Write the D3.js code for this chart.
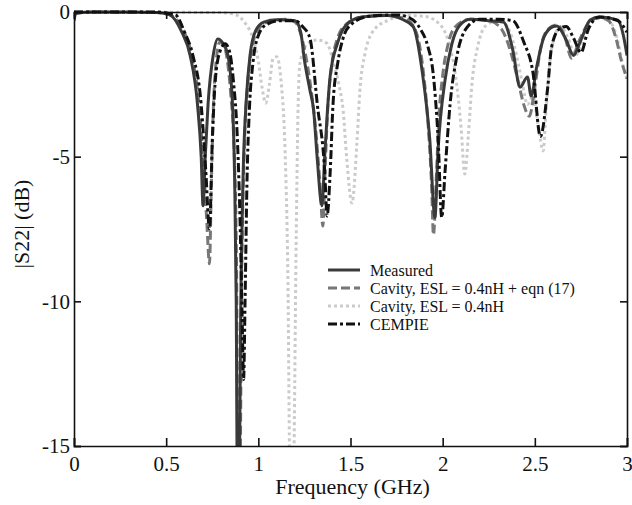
<!DOCTYPE html>
<html>
<head>
<meta charset="utf-8">
<script src="https://cdn.jsdelivr.net/npm/d3@7"></script>
<style>
  body { margin: 0; background: #fff; }
</style>
</head>
<body>
<div id="container"></div>
<script>
// data: [frequency GHz, |S22| dB]
const measured = [[0,-0.3],[0.01,-0.05],[0.1,0],[0.3,0],[0.45,-0.02],[0.52,-0.1],[0.585,-0.7],[0.63,-1.5],[0.67,-3.2],[0.69,-5.0],[0.70,-6.7],[0.712,-5.0],[0.727,-3.2],[0.755,-1.5],[0.78,-0.93],[0.81,-1.1],[0.835,-1.5],[0.86,-3.2],[0.872,-6],[0.88,-10],[0.886,-16],[0.896,-16],[0.905,-10],[0.918,-5.5],[0.935,-3],[0.955,-1.5],[0.985,-0.65],[1.03,-0.35],[1.1,-0.27],[1.2,-0.3],[1.23,-0.7],[1.25,-1.66],[1.28,-2.7],[1.30,-3.4],[1.32,-5.1],[1.345,-6.7],[1.36,-5.0],[1.375,-3.4],[1.39,-2.2],[1.43,-1.07],[1.47,-0.5],[1.56,-0.17],[1.7,-0.12],[1.78,-0.25],[1.84,-0.5],[1.89,-2.1],[1.93,-4.4],[1.958,-7.1],[1.975,-4.8],[2.013,-2.35],[2.05,-1.1],[2.094,-0.45],[2.15,-0.25],[2.25,-0.3],[2.33,-0.35],[2.38,-1.3],[2.42,-2.6],[2.46,-2.25],[2.48,-2.9],[2.51,-1.9],[2.55,-0.86],[2.6,-0.5],[2.62,-0.48],[2.67,-0.97],[2.71,-1.5],[2.75,-0.97],[2.8,-0.28],[2.85,-0.17],[2.95,-0.28],[2.98,-0.8],[3.0,-1.5]];

const cavityEqn = [[0,0],[0.45,-0.02],[0.52,-0.1],[0.59,-0.6],[0.635,-1.4],[0.675,-3.0],[0.70,-5.0],[0.72,-7.2],[0.735,-8.7],[0.745,-6.0],[0.755,-3.5],[0.77,-1.8],[0.79,-1.05],[0.81,-1.1],[0.83,-1.6],[0.85,-2.8],[0.87,-5],[0.882,-9],[0.89,-16],[0.9,-16],[0.91,-9],[0.925,-4.5],[0.945,-2.3],[0.97,-1.1],[1.0,-0.6],[1.05,-0.35],[1.15,-0.25],[1.2,-0.35],[1.24,-1.0],[1.28,-2.4],[1.31,-4.0],[1.335,-6.0],[1.35,-7.4],[1.362,-5.5],[1.375,-3.5],[1.395,-2.0],[1.43,-0.9],[1.48,-0.4],[1.55,-0.2],[1.7,-0.12],[1.8,-0.25],[1.85,-0.6],[1.89,-1.8],[1.92,-3.8],[1.94,-6.0],[1.95,-7.7],[1.965,-5.8],[1.98,-3.6],[2.0,-2.2],[2.03,-1.1],[2.07,-0.5],[2.15,-0.25],[2.25,-0.3],[2.32,-0.6],[2.37,-1.4],[2.41,-2.4],[2.44,-3.2],[2.47,-3.6],[2.5,-2.6],[2.53,-1.3],[2.57,-0.6],[2.62,-0.45],[2.66,-0.8],[2.70,-1.6],[2.74,-1.0],[2.79,-0.4],[2.85,-0.2],[2.9,-0.3],[2.94,-0.9],[2.97,-1.7],[3.0,-2.3]];

const cavity = [[0,0],[0.8,-0.02],[0.88,-0.1],[0.93,-0.4],[0.97,-0.9],[1.0,-1.7],[1.02,-2.6],[1.04,-3.15],[1.06,-2.5],[1.08,-1.6],[1.10,-1.55],[1.125,-2.5],[1.145,-4.8],[1.16,-9],[1.172,-16],[1.19,-16],[1.205,-8],[1.215,-3.5],[1.225,-1.8],[1.27,-1.07],[1.32,-0.97],[1.37,-1.07],[1.41,-1.8],[1.44,-2.6],[1.46,-3.4],[1.48,-5.1],[1.508,-6.6],[1.535,-4.5],[1.55,-2.8],[1.58,-1.4],[1.63,-0.6],[1.7,-0.3],[1.8,-0.12],[1.9,-0.15],[1.98,-0.4],[2.03,-1.0],[2.07,-2.2],[2.10,-4.0],[2.12,-5.6],[2.14,-4.2],[2.16,-2.4],[2.19,-1.2],[2.23,-0.5],[2.3,-0.3],[2.35,-0.5],[2.39,-1.2],[2.43,-2.4],[2.46,-3.2],[2.49,-2.9],[2.52,-4.0],[2.545,-4.8],[2.56,-3.5],[2.58,-1.8],[2.61,-0.8],[2.64,-0.5],[2.68,-0.9],[2.72,-1.5],[2.76,-1.0],[2.8,-0.4],[2.86,-0.2],[2.91,-0.35],[2.95,-1.0],[2.98,-1.9],[3.0,-2.3]];

const cempie = [[0,0],[0.45,0],[0.55,-0.1],[0.60,-0.7],[0.645,-1.5],[0.69,-3.2],[0.715,-5.5],[0.735,-7.5],[0.75,-4.5],[0.765,-2.5],[0.79,-1.4],[0.82,-1.1],[0.845,-1.4],[0.865,-2.4],[0.885,-4.2],[0.9,-7],[0.912,-10.5],[0.92,-12.7],[0.928,-10],[0.938,-6],[0.952,-3.3],[0.97,-1.8],[0.995,-0.9],[1.04,-0.45],[1.12,-0.3],[1.2,-0.3],[1.24,-0.5],[1.28,-0.9],[1.32,-3.2],[1.36,-5.5],[1.373,-7.05],[1.39,-5.5],[1.405,-3.2],[1.43,-1.8],[1.46,-0.9],[1.5,-0.45],[1.6,-0.15],[1.75,-0.1],[1.82,-0.2],[1.88,-0.6],[1.92,-1.2],[1.948,-2.1],[1.975,-4.35],[1.995,-7.1],[2.013,-5.5],[2.04,-3.2],[2.078,-1.5],[2.13,-0.55],[2.2,-0.25],[2.3,-0.25],[2.38,-0.3],[2.44,-1.04],[2.49,-2.1],[2.53,-4.3],[2.57,-2.6],[2.59,-1.25],[2.63,-0.6],[2.67,-0.5],[2.71,-0.9],[2.75,-1.4],[2.79,-0.6],[2.85,-0.17],[2.95,-0.3],[3.0,-0.7]];

const xTicks = [0, 0.5, 1, 1.5, 2, 2.5, 3];
const yTicks = [0, -5, -10, -15];
const legendLabels = ["Measured", "Cavity, ESL = 0.4nH + eqn (17)", "Cavity, ESL = 0.4nH", "CEMPIE"];

const width = 632,
      height = 505,
      margin = {top: 12, right: 5, bottom: 59, left: 74};
const serif = '"Liberation Serif", "DejaVu Serif", "Times New Roman", serif';

// line styles, in drawing order (light ones underneath)
const styles = [
  {data: cavity,    color: "#cbcbcb", dash: "3,3",        legend: 2},
  {data: cavityEqn, color: "#777777", dash: "9,4",        legend: 1},
  {data: measured,  color: "#3a3a3a", dash: null,         legend: 0},
  {data: cempie,    color: "#111111", dash: "9,3,3,3",    legend: 3}
];

const svg = d3.select("#container")
  .append("svg")
  .attr("width", width)
  .attr("height", height)
  .style("font-family", serif);

const xScale = d3.scaleLinear()
  .domain([0, 3])
  .range([margin.left, width - margin.right]);

const yScale = d3.scaleLinear()
  .domain([-15, 0])
  .range([height - margin.bottom, margin.top]);

// clip the curves to the plot box
svg.append("clipPath")
  .attr("id", "plotclip")
  .append("rect")
  .attr("x", margin.left)
  .attr("y", margin.top - 2)
  .attr("width", width - margin.left - margin.right)
  .attr("height", height - margin.top - margin.bottom + 2);

const line = d3.line()
  .x(d => xScale(d[0]))
  .y(d => yScale(d[1]))
  .curve(d3.curveMonotoneX);

svg.append("g")
  .attr("clip-path", "url(#plotclip)")
  .selectAll("path.series")
  .data(styles)
  .join("path")
  .attr("class", "series")
  .attr("d", d => line(d.data))
  .attr("fill", "none")
  .attr("stroke", d => d.color)
  .attr("stroke-width", 3)
  .attr("stroke-dasharray", d => d.dash);

// AXES - ticks pointing inward on all four sides
const fmt = d => String(d);
const axisFont = 21;

function styleAxis(g) {
  g.attr("font-family", serif);
  g.selectAll("text")
    .style("font-family", serif)
    .style("font-size", axisFont + "px")
    .attr("fill", "#111");
}

svg.append("g")
  .attr("transform", `translate(0,${height - margin.bottom})`)
  .call(d3.axisBottom(xScale).tickValues(xTicks).tickFormat(fmt).tickSize(-8).tickPadding(10))
  .call(styleAxis);

svg.append("g")
  .attr("transform", `translate(${margin.left},0)`)
  .call(d3.axisLeft(yScale).tickValues(yTicks).tickFormat(fmt).tickSize(-7).tickPadding(4))
  .call(styleAxis);

svg.append("g")
  .attr("transform", `translate(0,${margin.top})`)
  .call(d3.axisTop(xScale).tickValues(xTicks).tickFormat("").tickSize(-7));

svg.append("g")
  .attr("transform", `translate(${width - margin.right},0)`)
  .call(d3.axisRight(yScale).tickValues(yTicks).tickFormat("").tickSize(-7));

svg.selectAll(".domain, .tick line")
  .attr("stroke", "#111")
  .attr("stroke-width", 1.6);

// axis titles
svg.append("text")
  .attr("x", (margin.left + width - margin.right) / 2 + 2)
  .attr("y", 494)
  .attr("text-anchor", "middle")
  .style("font-family", serif)
  .style("font-size", "22px")
  .attr("fill", "#111")
  .text("Frequency (GHz)");

svg.append("text")
  .attr("transform", `translate(29,${(margin.top + height - margin.bottom) / 2 - 5}) rotate(-90)`)
  .attr("text-anchor", "middle")
  .style("font-family", serif)
  .style("font-size", "22px")
  .attr("fill", "#111")
  .text("|S22| (dB)");

// legend
const legend = svg.append("g")
  .attr("transform", "translate(328,270)");

const rows = legend.selectAll("g.row")
  .data(styles.slice().sort((a, b) => a.legend - b.legend))
  .join("g")
  .attr("class", "row")
  .attr("transform", d => `translate(0,${d.legend * 18})`);

rows.append("line")
  .attr("x1", 0)
  .attr("x2", 32)
  .attr("stroke", d => d.color)
  .attr("stroke-width", 3)
  .attr("stroke-dasharray", d => d.dash);

rows.append("text")
  .attr("x", 42)
  .attr("dy", "0.35em")
  .style("font-family", serif)
  .style("font-size", "16px")
  .attr("fill", "#111")
  .text(d => legendLabels[d.legend]);
</script>
</body>
</html>
